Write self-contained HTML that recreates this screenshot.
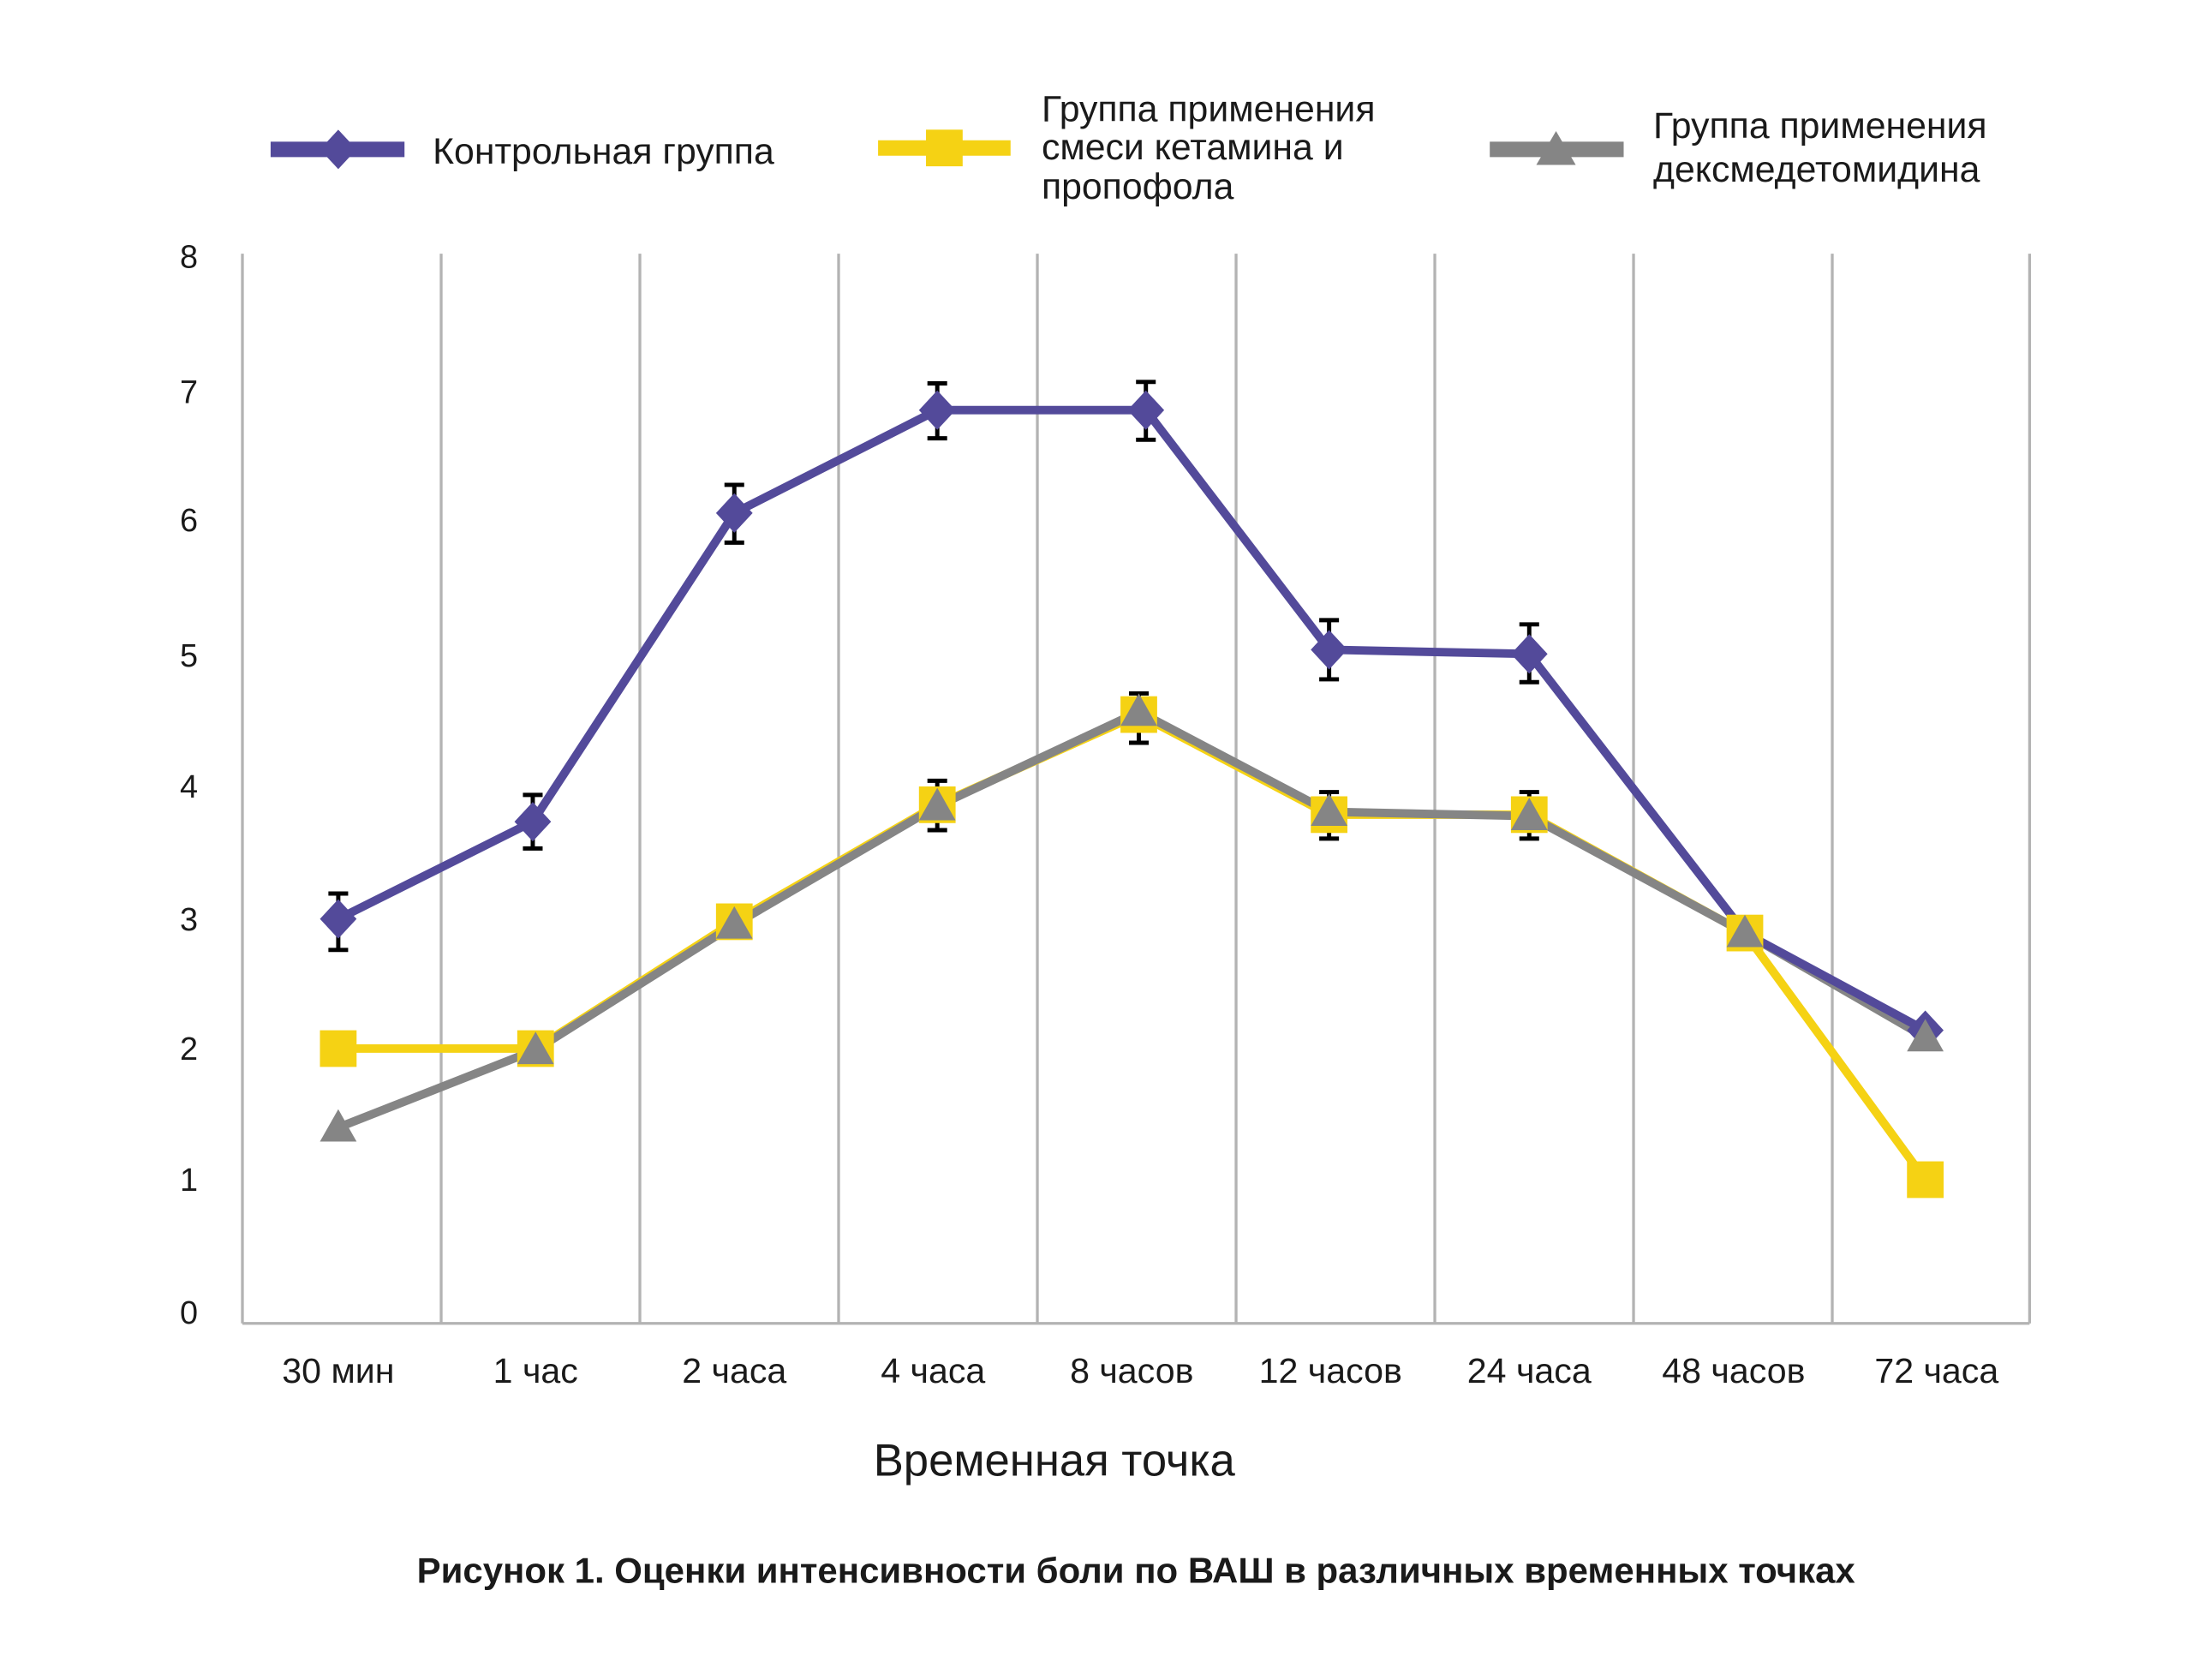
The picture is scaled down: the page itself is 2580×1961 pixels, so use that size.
<!DOCTYPE html>
<html><head><meta charset="utf-8"><style>
html,body{margin:0;padding:0;background:#fff}
svg{display:block}
text{font-family:"Liberation Sans","DejaVu Sans",sans-serif;fill:#1a1a1a}
</style></head><body>
<svg width="2580" height="1961" viewBox="0 0 1568 1192" preserveAspectRatio="none" xmlns="http://www.w3.org/2000/svg">
<rect width="1568" height="1192" fill="#fff"/>
<!-- legend -->
<line x1="192" y1="106" x2="287" y2="106" stroke="#534a9a" stroke-width="11"/>
<polygon points="240,92 253,106 240,120 227,106" fill="#534a9a"/>
<text x="307" y="116" font-size="26">Контрольная группа</text>
<line x1="623" y1="105" x2="717" y2="105" stroke="#f5d214" stroke-width="11"/>
<rect x="657" y="92" width="26" height="26" fill="#f5d214"/>
<text x="739" y="86" font-size="26">Группа применения</text>
<text x="739" y="113" font-size="26">смеси кетамина и</text>
<text x="739" y="141" font-size="26">пропофола</text>
<line x1="1057" y1="106" x2="1152" y2="106" stroke="#858585" stroke-width="11"/>
<polygon points="1104,93 1118,117 1090,117" fill="#858585"/>
<text x="1173" y="98" font-size="26">Группа применения</text>
<text x="1173" y="129" font-size="26">дексмедетомидина</text>
<!-- grid -->
<g stroke="#b3b3b3" stroke-width="2">
<line x1="172" y1="180" x2="172" y2="939"/><line x1="313" y1="180" x2="313" y2="939"/>
<line x1="454" y1="180" x2="454" y2="939"/><line x1="595" y1="180" x2="595" y2="939"/>
<line x1="736" y1="180" x2="736" y2="939"/><line x1="877" y1="180" x2="877" y2="939"/>
<line x1="1018" y1="180" x2="1018" y2="939"/><line x1="1159" y1="180" x2="1159" y2="939"/>
<line x1="1300" y1="180" x2="1300" y2="939"/><line x1="1440" y1="180" x2="1440" y2="939"/>
<line x1="172" y1="939" x2="1440" y2="939"/>
</g>
<g font-size="23" text-anchor="middle">
<text x="134" y="190">8</text><text x="134" y="286">7</text><text x="134" y="377">6</text>
<text x="134" y="473">5</text><text x="134" y="566">4</text><text x="134" y="660">3</text>
<text x="134" y="752">2</text><text x="134" y="845">1</text><text x="134" y="939">0</text>
</g>
<g font-size="25" text-anchor="middle">
<text x="240" y="981">30 мин</text><text x="380" y="981">1 час</text><text x="521" y="981">2 часа</text>
<text x="662" y="981">4 часа</text><text x="803" y="981">8 часов</text><text x="944" y="981">12 часов</text>
<text x="1085" y="981">24 часа</text><text x="1230" y="981">48 часов</text><text x="1374" y="981">72 часа</text>
<text x="748" y="1047" font-size="32">Временная точка</text>
<text x="806" y="1123" font-size="25.5" font-weight="bold">Рисунок 1. Оценки интенсивности боли по ВАШ в различных временных точках</text>
</g>
<!-- error bars -->
<g stroke="#000" stroke-width="3" fill="none">
<path d="M240,634V674M233,634H247M233,674H247"/>
<path d="M378,564V602M371,564H385M371,602H385"/>
<path d="M521,344V385M514,344H528M514,385H528"/>
<path d="M665,272V311M658,272H672M658,311H672"/>
<path d="M813,271V312M806,271H820M806,312H820"/>
<path d="M943,440V482M936,440H950M936,482H950"/>
<path d="M1085,443V484M1078,443H1092M1078,484H1092"/>
<path d="M665,554V589M658,554H672M658,589H672"/>
<path d="M808,492V527M801,492H815M801,527H815"/>
<path d="M943,562V595M936,562H950M936,595H950"/>
<path d="M1085,562V595M1078,562H1092M1078,595H1092"/>
</g>
<!-- lines -->
<polyline fill="none" stroke="#f5d214" stroke-width="6" points="240,744 380,744 521,654 665,571 808,507 943,578 1085,578 1238,662 1366,837"/>
<polyline fill="none" stroke="#858585" stroke-width="6" points="240,800 380,745 521,656 665,572 808,505 943,576 1085,579 1238,662 1366,736"/>
<polyline fill="none" stroke="#534a9a" stroke-width="6" points="240,652 378,583 521,364 665,291 813,291 943,461 1085,464 1238,662 1366,731"/>
<!-- markers -->
<g fill="#f5d214">
<rect x="227" y="731" width="26" height="26"/><rect x="367" y="731" width="26" height="26"/>
<rect x="508" y="641" width="26" height="26"/><rect x="652" y="558" width="26" height="26"/>
<rect x="795" y="494" width="26" height="26"/><rect x="930" y="565" width="26" height="26"/>
<rect x="1072" y="565" width="26" height="26"/><rect x="1225" y="649" width="26" height="26"/>
<rect x="1353" y="824" width="26" height="26"/>
</g>
<g fill="#534a9a">
<polygon points="240,638 253,652 240,666 227,652"/><polygon points="378,569 391,583 378,597 365,583"/>
<polygon points="521,350 534,364 521,378 508,364"/><polygon points="665,277 678,291 665,305 652,291"/>
<polygon points="813,277 826,291 813,305 800,291"/><polygon points="943,447 956,461 943,475 930,461"/>
<polygon points="1085,450 1098,464 1085,478 1072,464"/><polygon points="1366,717 1379,731 1366,745 1353,731"/>
</g>
<g fill="#858585">
<polygon points="240,787 253,810 227,810"/><polygon points="380,732 393,755 367,755"/>
<polygon points="521,643 534,666 508,666"/><polygon points="665,559 678,582 652,582"/>
<polygon points="808,492 821,515 795,515"/><polygon points="943,563 956,586 930,586"/>
<polygon points="1085,566 1098,589 1072,589"/><polygon points="1238,649 1251,672 1225,672"/>
<polygon points="1366,723 1379,746 1353,746"/>
</g>
</svg>
</body></html>
